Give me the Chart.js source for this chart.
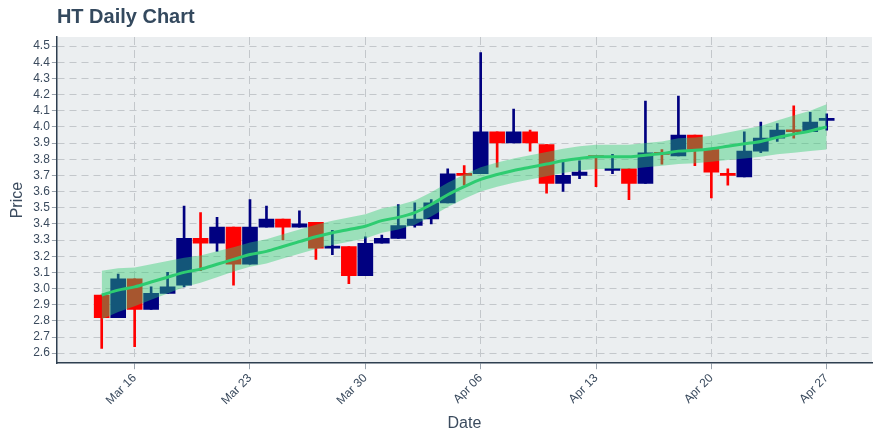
<!DOCTYPE html>
<html>
<head>
<meta charset="utf-8">
<title>HT Daily Chart</title>
<script src="https://cdn.jsdelivr.net/npm/chart.js@4.4.1/dist/chart.umd.min.js"></script>
<style>
  html, body { margin: 0; padding: 0; background: #ffffff; }
  #wrap { position: relative; width: 880px; height: 440px; }
</style>
</head>
<body>
<div id="wrap"><canvas id="htChart"></canvas></div>
<script>
// ---- data ----
const dates = [
  '2020-03-14', '2020-03-15', '2020-03-16', '2020-03-17', '2020-03-18', '2020-03-19', '2020-03-20',
  '2020-03-21', '2020-03-22', '2020-03-23', '2020-03-24', '2020-03-25', '2020-03-26', '2020-03-27',
  '2020-03-28', '2020-03-29', '2020-03-30', '2020-03-31', '2020-04-01', '2020-04-02', '2020-04-03',
  '2020-04-04', '2020-04-05', '2020-04-06', '2020-04-07', '2020-04-08', '2020-04-09', '2020-04-10',
  '2020-04-11', '2020-04-12', '2020-04-13', '2020-04-14', '2020-04-15', '2020-04-16', '2020-04-17',
  '2020-04-18', '2020-04-19', '2020-04-20', '2020-04-21', '2020-04-22', '2020-04-23', '2020-04-24',
  '2020-04-25', '2020-04-26', '2020-04-27'
];
const opens = [
  2.96, 2.82, 3.06, 2.87, 2.97, 3.02, 3.31, 3.28, 3.38, 3.15, 3.38, 3.43, 3.38, 3.41, 3.25,
  3.26, 3.08, 3.28, 3.31, 3.39, 3.43, 3.53, 3.71, 3.71, 3.97, 3.90, 3.97, 3.89, 3.65, 3.70,
  3.82, 3.73, 3.74, 3.65, 3.84, 3.82, 3.95, 3.86, 3.71, 3.69, 3.85, 3.93, 3.98, 3.97, 4.04
];
const highs = [
  2.96, 3.09, 3.06, 3.01, 3.10, 3.51, 3.47, 3.44, 3.38, 3.55, 3.51, 3.43, 3.48, 3.41, 3.36,
  3.26, 3.32, 3.33, 3.52, 3.53, 3.55, 3.74, 3.76, 4.46, 3.97, 4.11, 3.98, 3.89, 3.78, 3.79,
  3.82, 3.83, 3.74, 4.16, 3.86, 4.19, 3.95, 3.86, 3.74, 3.97, 4.03, 4.02, 4.13, 4.09, 4.08
];
const lows = [
  2.63, 2.82, 2.64, 2.87, 2.97, 3.01, 3.11, 3.23, 3.02, 3.15, 3.38, 3.30, 3.38, 3.18, 3.21,
  3.03, 3.08, 3.28, 3.31, 3.38, 3.40, 3.53, 3.64, 3.71, 3.75, 3.90, 3.85, 3.59, 3.60, 3.68,
  3.63, 3.71, 3.55, 3.65, 3.77, 3.82, 3.76, 3.56, 3.64, 3.69, 3.84, 3.91, 3.93, 3.97, 3.98
];
const closes = [
  2.82, 3.06, 2.87, 2.97, 3.01, 3.31, 3.28, 3.38, 3.15, 3.38, 3.43, 3.38, 3.40, 3.25, 3.26,
  3.08, 3.28, 3.31, 3.39, 3.43, 3.53, 3.71, 3.70, 3.97, 3.90, 3.97, 3.90, 3.65, 3.70, 3.72,
  3.81, 3.74, 3.65, 3.84, 3.83, 3.95, 3.86, 3.72, 3.70, 3.85, 3.93, 3.98, 3.97, 4.03, 4.05
];
// smoothed trend and its band
const trend = [
  2.96, 2.99, 3.01, 3.04, 3.07, 3.10, 3.12, 3.15, 3.18, 3.21, 3.23, 3.26, 3.29, 3.32, 3.345,
  3.365, 3.385, 3.42, 3.44, 3.47, 3.52, 3.58, 3.63, 3.675, 3.705, 3.73, 3.75, 3.77, 3.79, 3.805,
  3.815, 3.815, 3.815, 3.825, 3.835, 3.85, 3.855, 3.865, 3.88, 3.895, 3.91, 3.935, 3.955, 3.975, 4.00
];
const bandUpper = [
  3.11, 3.125, 3.13, 3.15, 3.17, 3.19, 3.205, 3.23, 3.255, 3.285, 3.305, 3.335, 3.365, 3.395, 3.42,
  3.44, 3.46, 3.495, 3.515, 3.545, 3.595, 3.655, 3.705, 3.75, 3.78, 3.805, 3.825, 3.845, 3.865, 3.88,
  3.89, 3.89, 3.89, 3.90, 3.91, 3.93, 3.935, 3.945, 3.965, 3.985, 4.005, 4.04, 4.07, 4.10, 4.14
];
const bandLower = [
  2.81, 2.855, 2.89, 2.93, 2.97, 3.01, 3.035, 3.07, 3.105, 3.135, 3.155, 3.185, 3.215, 3.245, 3.27,
  3.29, 3.31, 3.345, 3.365, 3.395, 3.445, 3.505, 3.555, 3.60, 3.63, 3.655, 3.675, 3.695, 3.715, 3.73,
  3.74, 3.74, 3.74, 3.75, 3.76, 3.77, 3.775, 3.785, 3.795, 3.805, 3.815, 3.83, 3.84, 3.85, 3.86
];
const tickDates = ['2020-03-16', '2020-03-23', '2020-03-30', '2020-04-06', '2020-04-13', '2020-04-20', '2020-04-27'];
const tickLabels = ['Mar 16', 'Mar 23', 'Mar 30', 'Apr 06', 'Apr 13', 'Apr 20', 'Apr 27'];
const priceTicks = [2.6, 2.7, 2.8, 2.9, 3.0, 3.1, 3.2, 3.3, 3.4, 3.5, 3.6, 3.7, 3.8, 3.9, 4.0, 4.1, 4.2, 4.3, 4.4, 4.5];

// ---- styling ----
const UP = '#000080';
const DOWN = '#ff0000';
const TEXT = '#3b4b5e';
const GRID = '#c3c7cb';

// day number (Mar 1 = 1)
const toDay = s => (Date.parse(s) - Date.parse('2020-03-01')) / 86400000 + 1;
const xs = dates.map(toDay);
const tickDays = tickDates.map(toDay);
const candleColor = closes.map((c, i) => c >= opens[i] ? UP : DOWN);

const points = arr => xs.map((x, i) => ({ x: x, y: arr[i] }));

// plot background + title
const plotBackground = {
  id: 'plotBackground',
  beforeDraw(chart) {
    const { ctx, chartArea: a } = chart;
    ctx.save();
    ctx.fillStyle = '#ebeef0';
    ctx.fillRect(a.left, a.top, a.right - a.left, a.bottom - a.top);
    ctx.restore();
  },
  afterDraw(chart) {
    const { ctx, chartArea: a } = chart;
    ctx.save();
    ctx.font = 'bold 20px "Liberation Sans", Arial, sans-serif';
    ctx.fillStyle = '#34495e';
    ctx.textBaseline = 'middle';
    ctx.fillText('HT Daily Chart', a.left, 17);
    ctx.restore();
  }
};

Chart.defaults.font.family = '"Liberation Sans", Arial, sans-serif';
Chart.defaults.color = TEXT;

new Chart(document.getElementById('htChart'), {
  type: 'bar',
  data: {
    datasets: [
      {
        type: 'line',
        data: points(trend),
        borderColor: '#2ecc71',
        borderWidth: 3,
        pointRadius: 0,
        cubicInterpolationMode: 'monotone',
        fill: false,
        order: 0
      },
      {
        type: 'line',
        data: points(bandUpper),
        borderWidth: 0,
        borderColor: 'rgba(0,0,0,0)',
        pointRadius: 0,
        backgroundColor: 'rgba(46, 204, 113, 0.42)',
        fill: '+1',
        order: 1
      },
      {
        type: 'line',
        data: points(bandLower),
        borderWidth: 0,
        borderColor: 'rgba(0,0,0,0)',
        pointRadius: 0,
        fill: false,
        order: 2
      },
      {
        data: xs.map((x, i) => ({ x: x, y: [opens[i], closes[i]] })),
        backgroundColor: candleColor,
        barThickness: 15,
        minBarLength: 2,
        grouped: false,
        order: 3
      },
      {
        data: xs.map((x, i) => ({ x: x, y: [lows[i], highs[i]] })),
        backgroundColor: candleColor,
        barThickness: 2,
        grouped: false,
        order: 4
      }
    ]
  },
  options: {
    responsive: true,
    maintainAspectRatio: false,
    animation: false,
    layout: { padding: { top: 37, right: 8, left: 4, bottom: 3 } },
    plugins: {
      legend: { display: false },
      tooltip: { enabled: false }
    },
    scales: {
      x: {
        type: 'linear',
        offset: false,
        min: 11.28,
        max: 60.75,
        afterBuildTicks: axis => { axis.ticks = tickDays.map(v => ({ value: v })); },
        ticks: {
          autoSkip: false,
          maxRotation: 45,
          minRotation: 45,
          font: { size: 12 },
          color: TEXT,
          padding: 2,
          callback: v => tickLabels[tickDays.indexOf(v)]
        },
        grid: {
          color: GRID,
          offset: false,
          tickLength: 6,
          tickColor: '#9aa3ad',
          tickWidth: 1
        },
        border: { display: true, color: '#2f3f50', width: 1.5, dash: [8, 5] },
        title: { display: true, text: 'Date', font: { size: 16 }, color: TEXT, padding: { top: 4 } }
      },
      y: {
        type: 'linear',
        min: 2.538,
        max: 4.556,
        afterBuildTicks: axis => { axis.ticks = priceTicks.map(v => ({ value: v })); },
        ticks: {
          autoSkip: false,
          font: { size: 12 },
          color: TEXT,
          padding: 2,
          callback: v => v.toFixed(1)
        },
        grid: {
          color: GRID,
          tickLength: 5,
          tickColor: '#9aa3ad',
          tickWidth: 1
        },
        border: { display: true, color: '#2f3f50', width: 1.5, dash: [7, 5] },
        title: { display: true, text: 'Price', font: { size: 16 }, color: TEXT, padding: { bottom: 4 } }
      }
    }
  },
  plugins: [plotBackground]
});
</script>
</body>
</html>
